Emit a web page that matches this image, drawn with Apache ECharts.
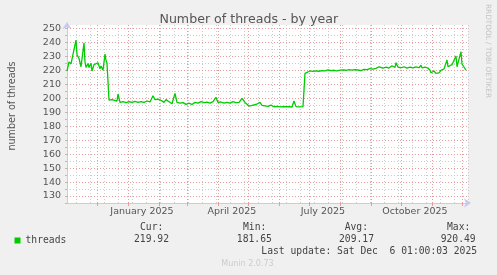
<!DOCTYPE html>
<html><head><meta charset="utf-8">
<script src="https://cdn.jsdelivr.net/npm/echarts@6/dist/echarts.min.js"></script>
<style>html,body{margin:0;padding:0;background:#f0f0f0}#c{width:497px;height:275px}</style>
</head><body><div id="c"></div>
<script>
// ---- data (day offsets since 2024-11-01 01:00, value) ----
const startDate = '2024-11-01T01:00:03Z';
const dayOffsets = [0,2,4,6,9,10,12,14,15,17,18,19,21,22,24,25,27,29,31,33,34,36,38,39,40,42,43,45,47,50,51,53,56,59,62,65,68,71,74,77,80,83,86,88,91,94,97,99,102,105,108,110,113,116,119,122,125,128,131,134,137,140,143,146,149,151,154,157,160,163,166,169,172,175,178,180,182,185,189,193,195,198,201,204,207,210,213,216,219,222,225,227,229,232,236,237,238,240,243,246,249,252,255,258,261,264,267,270,273,276,279,282,285,288,291,294,297,300,303,306,309,312,314,316,319,322,325,328,329,331,334,337,340,343,346,349,352,354,355,358,361,363,364,367,369,372,374,377,380,381,383,385,387,389,390,392,394,395,397,399];
const threads = [219.4,226,224.5,223.7,241.6,231,228.5,222.5,222,239.7,226,222,224.9,222,225,219.5,224,223,225.4,221,223,220,231.6,227,225,198.7,197.5,199,199.5,198,203,197,197.5,196.8,197.5,197,197.8,197,197.5,197,198,197.3,201.8,199,199.4,198.5,197,199,197.5,196,203.5,197,196.5,196.8,195.6,196.5,195.5,197,196.5,197.5,196.8,197.2,196.5,197.5,200.6,197,197.3,196.5,197,196.5,197.5,196.8,197,199.9,197,196,194.4,194.8,195.5,197,194.8,194.5,194.2,195,193.9,194.2,193.8,194,193.9,194,193.7,198,194,193.8,194,194.2,217.8,219,219.5,219.2,219.6,219.3,219.7,219.5,220.2,219.8,220,219.6,220.1,220.3,220,220.4,220.1,220.5,220.2,219.8,220.6,220.5,221.2,220.8,221.4,222.5,223,221.5,222.3,221.6,223.2,222,225.4,222.2,221.8,222.5,221.6,222.3,221.7,222.5,221.8,223.7,221.7,222.2,221.6,220,218.2,219.5,217.8,218.2,220,221,227.3,222.5,222,224,223,230.2,222.5,223.5,233.3,224.5,225,220];
// ---- axes / ticks ----
const yMajor = [130,140,150,160,170,180,190,200,210,220,230,240,250];
const yMinor = [135,145,155,165,175,185,195,205,215,225,235,245];
const monthLines = ['2024-12-01','2025-01-01','2025-02-01','2025-03-01','2025-04-01','2025-05-01','2025-06-01','2025-07-01','2025-08-01','2025-09-01','2025-10-01','2025-11-01','2025-12-01'];
const firstWeekLine = '2024-11-10';
const xLabelDates = ['2025-01-15','2025-04-15','2025-07-15','2025-10-15'];
const xLabelTexts = ['January 2025','April 2025','July 2025','October 2025'];
const statHeads = ['Cur:','Min:','Avg:','Max:'];
const statValues = ['219.92','181.65','209.17','920.49'];
const seriesName = 'threads';

const DAY = 86400000;
const START = Date.parse(startDate);
const ts = d => Date.parse(d + 'T00:00:00Z');
const seriesData = dayOffsets.map((d, i) => [START + d * DAY, threads[i]]);
const weekLines = [];
for (let t = ts(firstWeekLine); t < START + 401 * DAY; t += 14 * DAY) weekLines.push(t);
const labelTs = xLabelDates.map(ts);

const RED = '#e49c9c', GRAY = '#cccccc';
const gridLines = [];
weekLines.forEach(t => gridLines.push({xAxis: t, lineStyle: {color: GRAY, type: [1, 2], width: 1}}));
yMinor.forEach(v => gridLines.push({yAxis: v, lineStyle: {color: GRAY, type: [1, 2], width: 1}}));
monthLines.forEach(d => gridLines.push({xAxis: ts(d), lineStyle: {color: RED, type: [1, 2], width: 1}}));
yMajor.forEach(v => gridLines.push({yAxis: v, lineStyle: {color: RED, type: [1, 2], width: 1}}));

const mono = '"DejaVu Sans Mono", monospace';
const sans = '"DejaVu Sans", sans-serif';
const txt = (x, y, text, opt) => Object.assign({type: 'text', x, y, silent: true,
  style: Object.assign({text, fontFamily: mono, fontSize: 9.7, fill: '#444', align: 'left', verticalAlign: 'middle'}, opt || {})});
const headX = [140, 243, 344.7, 447];
const valX = [134, 236.8, 339, 440.7];
const graphics = [
  txt(248.8, 20, 'Number of threads - by year', {fontFamily: sans, fontSize: 12.6, fill: '#555', align: 'center'}),
  Object.assign(txt(12.5, 106, 'number of threads', {fontFamily: sans, fontSize: 9.6, fill: '#555', align: 'center'}), {rotation: Math.PI / 2}),
  Object.assign(txt(488, 51, 'RRDTOOL / TOBI OETIKER', {fontFamily: sans, fontSize: 7.3, fill: '#c4c4c4', align: 'center'}), {rotation: -Math.PI / 2}),
  txt(261.3, 251, 'Last update: Sat Dec  6 01:00:03 2025'),
  txt(247.5, 264, 'Munin 2.0.73', {fontFamily: sans, fontSize: 8, fill: '#cccccc', align: 'center'})
];
statHeads.forEach((h, i) => graphics.push(txt(headX[i], 227.7, h)));
statValues.forEach((v, i) => graphics.push(txt(valX[i], 239.3, v)));

const chart = echarts.init(document.getElementById('c'), null, {renderer: 'canvas'});
chart.setOption({
  animation: false,
  backgroundColor: '#f0f0f0',
  grid: {left: 67, right: 29, top: 25, bottom: 72, show: true, backgroundColor: '#ffffff', borderWidth: 0, containLabel: false},
  legend: {data: [seriesName], left: 14.5, top: 235.5, padding: 0, icon: 'rect', itemWidth: 6, itemHeight: 6,
    textStyle: {fontFamily: mono, fontSize: 9.7, color: '#444'}},
  xAxis: {
    type: 'value', min: START, max: START + 401 * DAY,
    axisLine: {show: true, lineStyle: {color: '#c8c8f4', width: 1}, symbol: ['none', 'arrow'], symbolSize: [7, 7], symbolOffset: [0, 3]},
    axisTick: {show: true, customValues: monthLines.map(ts), length: 3, lineStyle: {color: RED}},
    axisLabel: {customValues: labelTs, margin: 4, fontFamily: sans, fontSize: 9.5, color: '#555',
      formatter: v => { let bi = 0; labelTs.forEach((t, i) => { if (Math.abs(t - v) < Math.abs(labelTs[bi] - v)) bi = i; }); return xLabelTexts[bi]; }},
    splitLine: {show: false}
  },
  yAxis: {
    type: 'value', min: 125, max: 252.4, interval: 5,
    axisLine: {show: true, lineStyle: {color: '#c8c8f4', width: 1}, symbol: ['none', 'arrow'], symbolSize: [7, 7], symbolOffset: [0, 3]},
    axisTick: {show: true, length: 2, lineStyle: {color: '#bbbbbb'}},
    axisLabel: {margin: 6, fontFamily: sans, fontSize: 9.5, color: '#555',
      formatter: v => (Math.abs(v % 10) < 1e-6 ? String(Math.round(v)) : ''), showMaxLabel: false},
    splitLine: {show: false}
  },
  series: [
    {name: 'grid', type: 'line', data: [], z: 1, silent: true, legendHoverLink: false,
      markLine: {silent: true, symbol: ['none', 'none'], label: {show: false}, animation: false, data: gridLines}},
    {name: seriesName, type: 'line', data: seriesData, z: 5, symbol: 'none', showSymbol: false,
      lineStyle: {color: '#00cc00', width: 1.3}, itemStyle: {color: '#00cc00'}}
  ],
  graphic: graphics
});
</script></body></html>
